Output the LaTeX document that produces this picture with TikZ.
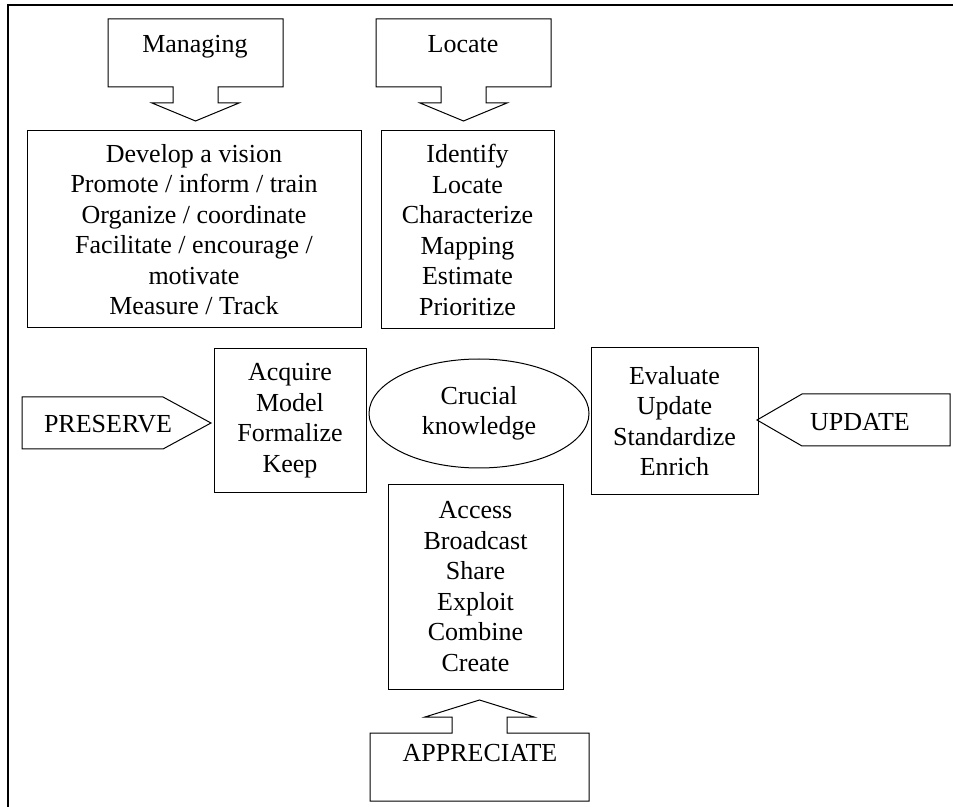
\documentclass[tikz,border=0pt]{standalone}
\usepackage{fontspec}
\setmainfont{Liberation Serif}
\usetikzlibrary{positioning, shapes}

\begin{document}
\begin{tikzpicture}[
	x=0.5pt, y=-0.5pt,
	every node/.style={font=\fontsize{13}{15.25}\selectfont},
	listbox/.style={rectangle, draw, line width=0.5pt, align=center, inner sep=0pt},
	core/.style={ellipse, draw, line width=0.5pt, align=center, inner sep=0pt, minimum width=110pt, minimum height=54.5pt},
	tag/.style={inner sep=0pt, anchor=base},
	callout/.style={line width=0.5pt, line join=miter}
]

\useasboundingbox (0,0) rectangle (953,807);
\draw[line width=1pt] (953,5) -- (8,5) -- (8,807);

\node[listbox, minimum width=167pt, minimum height=98.5pt] (develop) at (194,229.5) {Develop a vision\\Promote / inform / train\\Organize / coordinate\\Facilitate / encourage /\\motivate\\Measure / Track};
\node[listbox, minimum width=86.5pt, minimum height=99pt] (identify) at (467.5,230) {Identify\\Locate\\Characterize\\Mapping\\Estimate\\Prioritize};
\node[listbox, minimum width=76pt, minimum height=71.5pt] (acquire) at (290,420.5) {Acquire\\Model\\Formalize\\Keep};
\node[core] (crucial) at (479,413.5) {Crucial\\knowledge};
\node[listbox, minimum width=83.5pt, minimum height=73pt] (evaluate) at (674.5,421) {Evaluate\\Update\\Standardize\\Enrich};
\node[listbox, minimum width=87.5pt, minimum height=102.5pt] (access) at (475.5,586.5) {Access\\Broadcast\\Share\\Exploit\\Combine\\Create};

% callouts pointing down
\foreach \cx/\word in {195.5/Managing, 463.5/Locate} {
	\node[tag] (\word) at (\cx-0.5,53) {\word};
	\draw[callout] (\cx-22.5,87) -- (\cx-87.5,87) -- (\cx-87.5,19) -- (\cx+87.5,19) -- (\cx+87.5,87) -- (\cx+22.5,87) -- (\cx+22.5,103) -- (\cx+43.5,103) -- (\cx,121) -- (\cx-43.5,103) -- (\cx-22.5,103) -- cycle;
}

% callout pointing up
\node[tag] (appreciate) at (480,761) {APPRECIATE};
\draw[callout] (452,733) -- (370,733) -- (370,801) -- (589,801) -- (589,733) -- (507,733) -- (507,717) -- (534,717) -- (479.5,700) -- (425,717) -- (452,717) -- cycle;

% side tags
\node[tag] (preserve) at (108,433) {PRESERVE};
\draw[callout] (22,397) -- (163,397) -- (211,423) -- (163,449) -- (22,449) -- cycle;

\node[tag] (update) at (860,430) {UPDATE};
\draw[callout] (950,394) -- (802,394) -- (757,420) -- (802,446) -- (950,446) -- cycle;

\end{tikzpicture}
\end{document}
